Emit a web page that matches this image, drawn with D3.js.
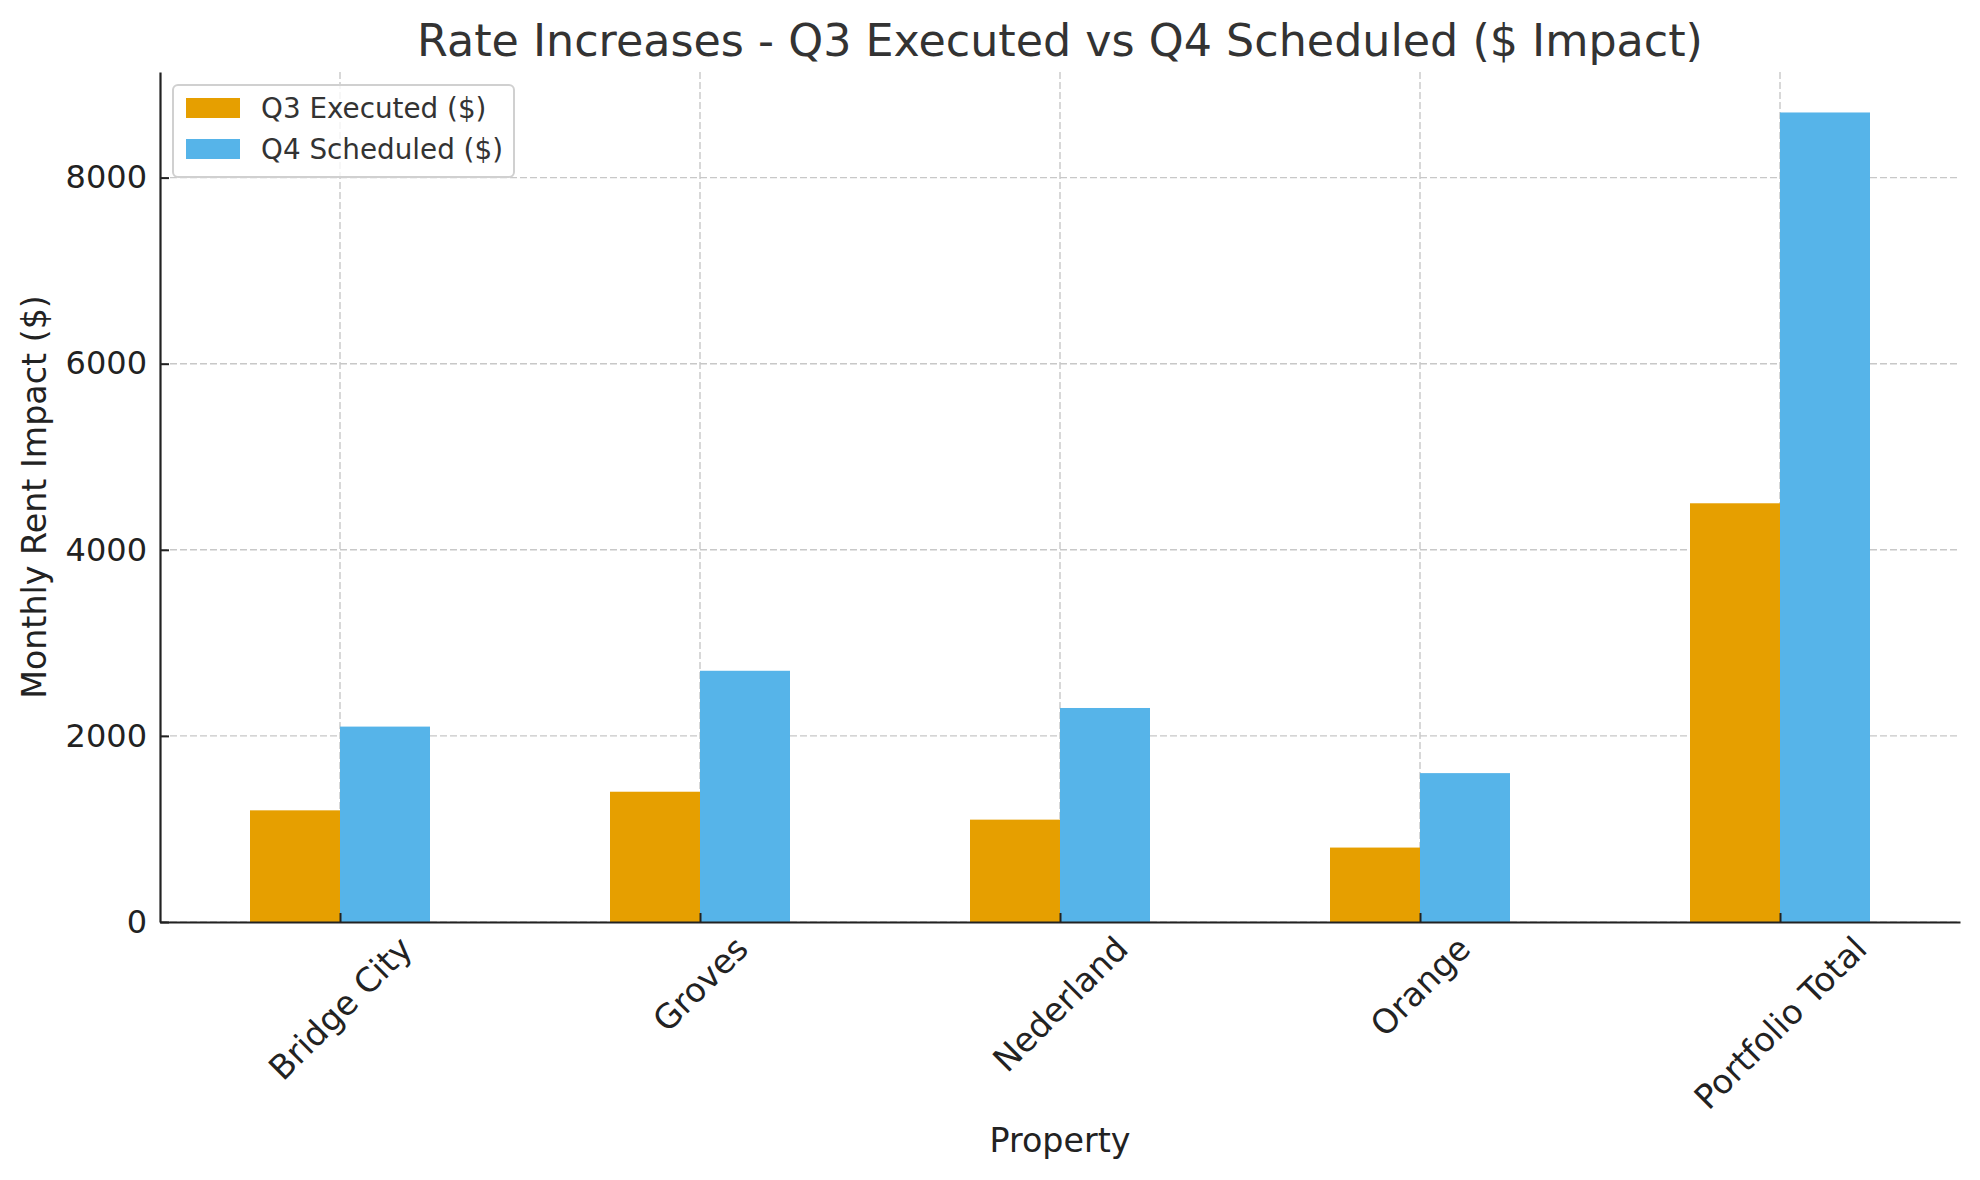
<!DOCTYPE html>
<html>
<head>
<meta charset="utf-8">
<script src="https://cdn.jsdelivr.net/npm/d3@7"></script>
<style>
  body { margin: 0; background: #fff; }
  text { font-family: "DejaVu Sans", sans-serif; }
</style>
</head>
<body>
<div id="chart"></div>
<script>
// data
const properties = ['Bridge City', 'Groves', 'Nederland', 'Orange', 'Portfolio Total'];
const q3Executed = [1200, 1400, 1100, 800, 4500];
const q4Scheduled = [2100, 2700, 2300, 1600, 8700];
const seriesNames = ['Q3 Executed ($)', 'Q4 Scheduled ($)'];
const yTicks = [0, 2000, 4000, 6000, 8000];

const width = 1980, height = 1180;
const margin = {top: 72, right: 20, bottom: 258, left: 160};
const graphWidth = width - margin.left - margin.right;
const graphHeight = height - margin.top - margin.bottom;
const colors = ['#E69F00', '#56B4E9'];
const tickFont = 32;
const xTickFont = 33.5;

const svg = d3.select('#chart')
  .append('svg')
  .attr('width', width)
  .attr('height', height);

const graph = svg.append('g')
  .attr('transform', `translate(${margin.left},${margin.top})`);

// scales: pandas style, xlim -0.5..n-0.5, bars 0.25 wide each
const x = d3.scaleLinear()
  .domain([-0.5, properties.length - 0.5])
  .range([0, graphWidth]);
const yMax = d3.max(q4Scheduled.concat(q3Executed)) * 1.05;
const y = d3.scaleLinear()
  .domain([0, yMax])
  .range([graphHeight, 0]);

// grid
const gridColor = '#c8c8c8';
graph.append('g')
  .selectAll('line')
  .data(yTicks)
  .join('line')
  .attr('x1', 0).attr('x2', graphWidth)
  .attr('y1', d => y(d)).attr('y2', d => y(d))
  .attr('stroke', gridColor)
  .attr('stroke-width', 1.4)
  .attr('stroke-dasharray', '7,3');
graph.append('g')
  .selectAll('line')
  .data(properties)
  .join('line')
  .attr('x1', (d, i) => x(i)).attr('x2', (d, i) => x(i))
  .attr('y1', 0).attr('y2', graphHeight)
  .attr('stroke', gridColor)
  .attr('stroke-width', 1.4)
  .attr('stroke-dasharray', '7,3');

// bars
const barW = 0.25;
[q3Executed, q4Scheduled].forEach((vals, s) => {
  graph.append('g')
    .selectAll('rect')
    .data(vals)
    .join('rect')
    .attr('x', (d, i) => x(i - barW + s * barW))
    .attr('width', x(barW) - x(0))
    .attr('y', d => y(d))
    .attr('height', d => graphHeight - y(d))
    .attr('fill', colors[s]);
});

// axes
const axisColor = '#222222';
const yAxis = d3.axisLeft(y)
  .tickValues(yTicks)
  .tickFormat(d3.format('d'))
  .tickSizeInner(-9)
  .tickSizeOuter(0)
  .tickPadding(13);
const yAxisGroup = graph.append('g').call(yAxis);
yAxisGroup.select('.domain').attr('stroke', axisColor).attr('stroke-width', 2.2);
yAxisGroup.selectAll('.tick line').attr('stroke', axisColor).attr('stroke-width', 2);
yAxisGroup.selectAll('.tick text')
  .attr('fill', '#222')
  .style('font-size', tickFont + 'px')
  .style('font-family', 'DejaVu Sans');

const xAxis = d3.axisBottom(x)
  .tickValues(d3.range(properties.length))
  .tickFormat(i => properties[i])
  .tickSizeInner(-9)
  .tickSizeOuter(0);
const xAxisGroup = graph.append('g')
  .attr('transform', `translate(0,${graphHeight})`)
  .call(xAxis);
xAxisGroup.select('.domain').attr('stroke', axisColor).attr('stroke-width', 2.2);
xAxisGroup.selectAll('.tick line').attr('stroke', axisColor).attr('stroke-width', 2);
// rotated labels, centred under the tick like matplotlib rot=45
xAxisGroup.selectAll('.tick text')
  .attr('fill', '#222')
  .style('font-size', xTickFont + 'px')
  .style('font-family', 'DejaVu Sans')
  .attr('dy', null)
  .attr('y', 0)
  .attr('text-anchor', 'middle')
  .attr('dominant-baseline', 'central')
  .attr('transform', function() {
    const len = this.getComputedTextLength();
    const half = (len + xTickFont * 1.16) * Math.SQRT1_2 / 2;
    return `translate(0,${7 + half}) rotate(-45)`;
  });

// title and labels
svg.append('text')
  .attr('x', margin.left + graphWidth / 2)
  .attr('y', 56)
  .attr('text-anchor', 'middle')
  .attr('fill', '#333')
  .style('font-size', '44.4px')
  .text('Rate Increases - Q3 Executed vs Q4 Scheduled ($ Impact)');

svg.append('text')
  .attr('x', margin.left + graphWidth / 2)
  .attr('y', 1152)
  .attr('text-anchor', 'middle')
  .attr('fill', '#222')
  .style('font-size', '33.3px')
  .text('Property');

svg.append('text')
  .attr('transform', `translate(46,${margin.top + graphHeight / 2}) rotate(-90)`)
  .attr('text-anchor', 'middle')
  .attr('fill', '#222')
  .style('font-size', '33.3px')
  .text('Monthly Rent Impact ($)');

// legend
const legend = svg.append('g').attr('transform', 'translate(173,85)');
legend.append('rect')
  .attr('width', 341).attr('height', 92)
  .attr('rx', 5).attr('ry', 5)
  .attr('fill', 'white').attr('fill-opacity', 0.8)
  .attr('stroke', '#d0d0d0').attr('stroke-width', 2);
seriesNames.forEach((name, s) => {
  const cy = 23 + s * 41;
  legend.append('rect')
    .attr('x', 13).attr('y', cy - 10)
    .attr('width', 54).attr('height', 20)
    .attr('fill', colors[s]);
  legend.append('text')
    .attr('x', 88).attr('y', cy)
    .attr('dominant-baseline', 'central')
    .attr('fill', '#333')
    .style('font-size', '27.8px')
    .text(name);
});
</script>
</body>
</html>
